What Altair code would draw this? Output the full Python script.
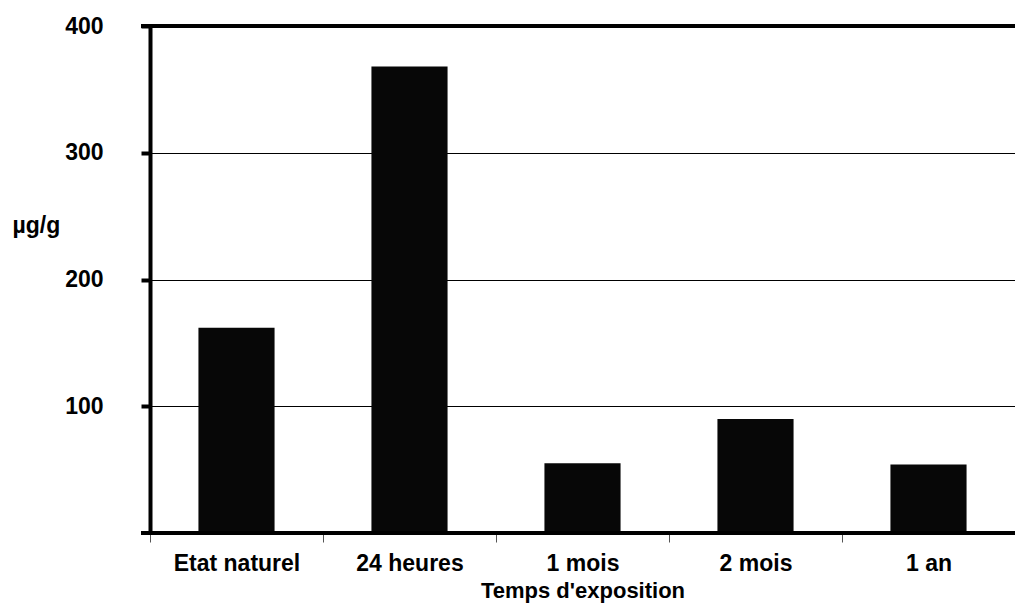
import altair as alt
import pandas as pd

categories = ["Etat naturel", "24 heures", "1 mois", "2 mois", "1 an"]
values = [162, 368, 55, 90, 54]
y_ticks = [100, 200, 300, 400]

df = pd.DataFrame({"cat": categories, "val": values})

W, H = 865, 507
FONT = "Liberation Sans"
FS = 23

x_enc = alt.X(
    "cat:N",
    sort=categories,
    scale=alt.Scale(paddingInner=0, paddingOuter=0),
    axis=alt.Axis(
        title="Temps d'exposition",
        titleFont=FONT, titleFontSize=22, titleFontWeight="bold", titleColor="black",
        titleBaseline="bottom", titleY=69,
        labelFont=FONT, labelFontSize=FS, labelFontWeight="bold", labelColor="black",
        labelAngle=0, labelPadding=10, labelBaseline="top",
        tickBand="extent", tickSize=9, tickColor="#555", tickWidth=1,
        domain=False, grid=False,
    ),
)

y_enc = alt.Y(
    "val:Q",
    scale=alt.Scale(domain=[0, 400], nice=False),
    axis=alt.Axis(
        values=y_ticks,
        title="µg/g",
        titleFont=FONT, titleFontSize=FS, titleFontWeight="bold", titleColor="black",
        titleAngle=0, titleAlign="left", titleBaseline="middle",
        titleX=-138, titleY=199,
        labelFont=FONT, labelFontSize=FS, labelFontWeight="bold", labelColor="black",
        labelPadding=38,
        tickSize=9, tickWidth=4, tickColor="black",
        domainColor="black", domainWidth=4,
        grid=True, gridColor="black", gridWidth=1,
    ),
)

bars = alt.Chart(df).mark_bar(
    color="#070707", width=alt.RelativeBandSize(0.44)
).encode(x=x_enc, y=y_enc)

rule_df = pd.DataFrame({"y": [0, 400]})
rules = alt.Chart(rule_df).mark_rule(color="black", strokeWidth=4).encode(
    y=alt.Y("y:Q", scale=alt.Scale(domain=[0, 400], nice=False)),
    x=alt.value(-9),
    x2=alt.value(W),
)

chart = alt.layer(bars, rules).properties(
    width=W,
    height=H,
    autosize=alt.AutoSizeParams(type="none"),
    padding={"left": 142, "top": 18, "right": 0, "bottom": 70},
).configure_view(stroke=None).configure(background="white")

chart.save("out.html", embed_options={"renderer": "svg", "actions": False})
